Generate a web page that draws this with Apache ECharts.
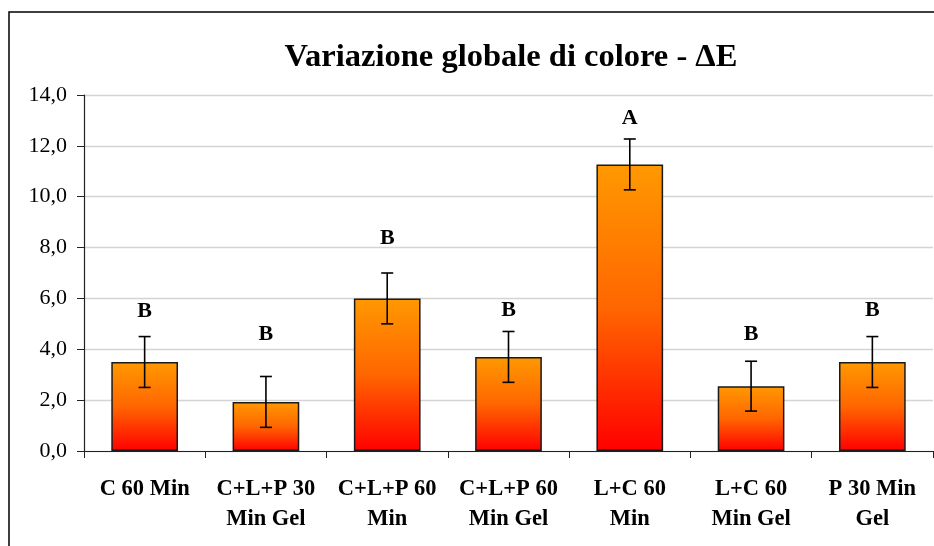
<!DOCTYPE html>
<html>
<head>
<meta charset="utf-8">
<script src="https://cdn.jsdelivr.net/npm/echarts@6/dist/echarts.min.js"></script>
<style>
  html, body { margin: 0; padding: 0; background: #fff; }
  #chart { width: 934px; height: 546px; }
</style>
</head>
<body>
<div id="chart"></div>
<script>
// Treatment groups
var categories = [
  'C 60 Min',
  'C+L+P 30\nMin Gel',
  'C+L+P 60\nMin',
  'C+L+P 60\nMin Gel',
  'L+C 60\nMin',
  'L+C 60\nMin Gel',
  'P 30 Min\nGel'
];
// Mean ΔE per group
var meanDeltaE = [3.5, 1.93, 6.0, 3.7, 11.27, 2.55, 3.5];
// Standard deviation per group
var sdDeltaE = [1.0, 1.0, 1.0, 1.0, 1.0, 0.98, 1.0];
// Significance group letters and the height at which each one is written
var groupLetters = ['B', 'B', 'B', 'B', 'A', 'B', 'B'];
var letterHeights = [5.5, 4.6, 8.36, 5.55, 13.1, 4.59, 5.55];
// Value axis ticks
var yTicks = [0, 2, 4, 6, 8, 10, 12, 14];

var serif = '"Liberation Serif", "DejaVu Serif", serif';

var errData = meanDeltaE.map(function (m, i) {
  return [i, m - sdDeltaE[i], m + sdDeltaE[i]];
});
var letterData = letterHeights.map(function (h, i) { return [i, h]; });

var chart = echarts.init(document.getElementById('chart'), null, { renderer: 'canvas' });

chart.setOption({
  animation: false,
  backgroundColor: '#ffffff',
  title: {
    text: 'Variazione globale di colore - ΔE',
    left: 506,
    textAlign: 'center',
    top: 36,
    textStyle: {
      fontFamily: serif,
      fontWeight: 'bold',
      fontSize: 32.5,
      color: '#000'
    }
  },
  graphic: [{
    type: 'rect',
    shape: { x: 9, y: 12, width: 1200, height: 1200 },
    style: { fill: 'none', stroke: '#000', lineWidth: 1.5 },
    silent: true,
    z: -1
  }],
  grid: { left: 84, right: 1, top: 95, bottom: 95, containLabel: false },
  xAxis: {
    type: 'category',
    data: categories,
    boundaryGap: true,
    axisLine: { show: true, lineStyle: { color: '#222', width: 1.2 } },
    axisTick: { show: true, alignWithLabel: false, length: 7, lineStyle: { color: '#222' } },
    axisLabel: {
      interval: 0,
      margin: 23,
      fontFamily: serif,
      fontWeight: 'bold',
      fontSize: 22.5,
      lineHeight: 30,
      color: '#000'
    },
    splitLine: { show: false }
  },
  yAxis: {
    type: 'value',
    min: yTicks[0],
    max: yTicks[yTicks.length - 1],
    interval: yTicks[1] - yTicks[0],
    axisLine: { show: true, lineStyle: { color: '#222', width: 1.2 } },
    axisTick: { show: true, length: 7, lineStyle: { color: '#222' } },
    axisLabel: {
      margin: 17,
      fontFamily: serif,
      fontSize: 22,
      color: '#000',
      formatter: function (v) { return v.toFixed(1).replace('.', ','); }
    },
    splitLine: { show: true, lineStyle: { color: '#d4d4d4', width: 1.3 } }
  },
  series: [
    {
      type: 'bar',
      data: meanDeltaE,
      barWidth: '55%',
      itemStyle: {
        color: new echarts.graphic.LinearGradient(0, 0, 0, 1, [
          { offset: 0, color: '#ff9900' },
          { offset: 0.5, color: '#ff6600' },
          { offset: 1, color: '#ff0000' }
        ]),
        borderColor: '#1a1a1a',
        borderWidth: 1.5
      },
      z: 2
    },
    {
      type: 'custom',
      data: errData,
      z: 5,
      renderItem: function (params, api) {
        var i = api.value(0);
        var lo = api.coord([i, api.value(1)]);
        var hi = api.coord([i, api.value(2)]);
        var half = 6;
        var st = { stroke: '#000', lineWidth: 1.6 };
        return {
          type: 'group',
          children: [
            { type: 'line', shape: { x1: hi[0], y1: hi[1], x2: lo[0], y2: lo[1] }, style: st },
            { type: 'line', shape: { x1: hi[0] - half, y1: hi[1], x2: hi[0] + half, y2: hi[1] }, style: st },
            { type: 'line', shape: { x1: lo[0] - half, y1: lo[1], x2: lo[0] + half, y2: lo[1] }, style: st }
          ]
        };
      }
    },
    {
      type: 'scatter',
      data: letterData,
      symbolSize: 0,
      z: 6,
      itemStyle: { opacity: 1 },
      label: {
        show: true,
        position: 'inside',
        formatter: function (p) { return groupLetters[p.dataIndex]; },
        fontFamily: serif,
        fontWeight: 'bold',
        fontSize: 22,
        color: '#000',
        opacity: 1
      }
    }
  ]
});
</script>
</body>
</html>
